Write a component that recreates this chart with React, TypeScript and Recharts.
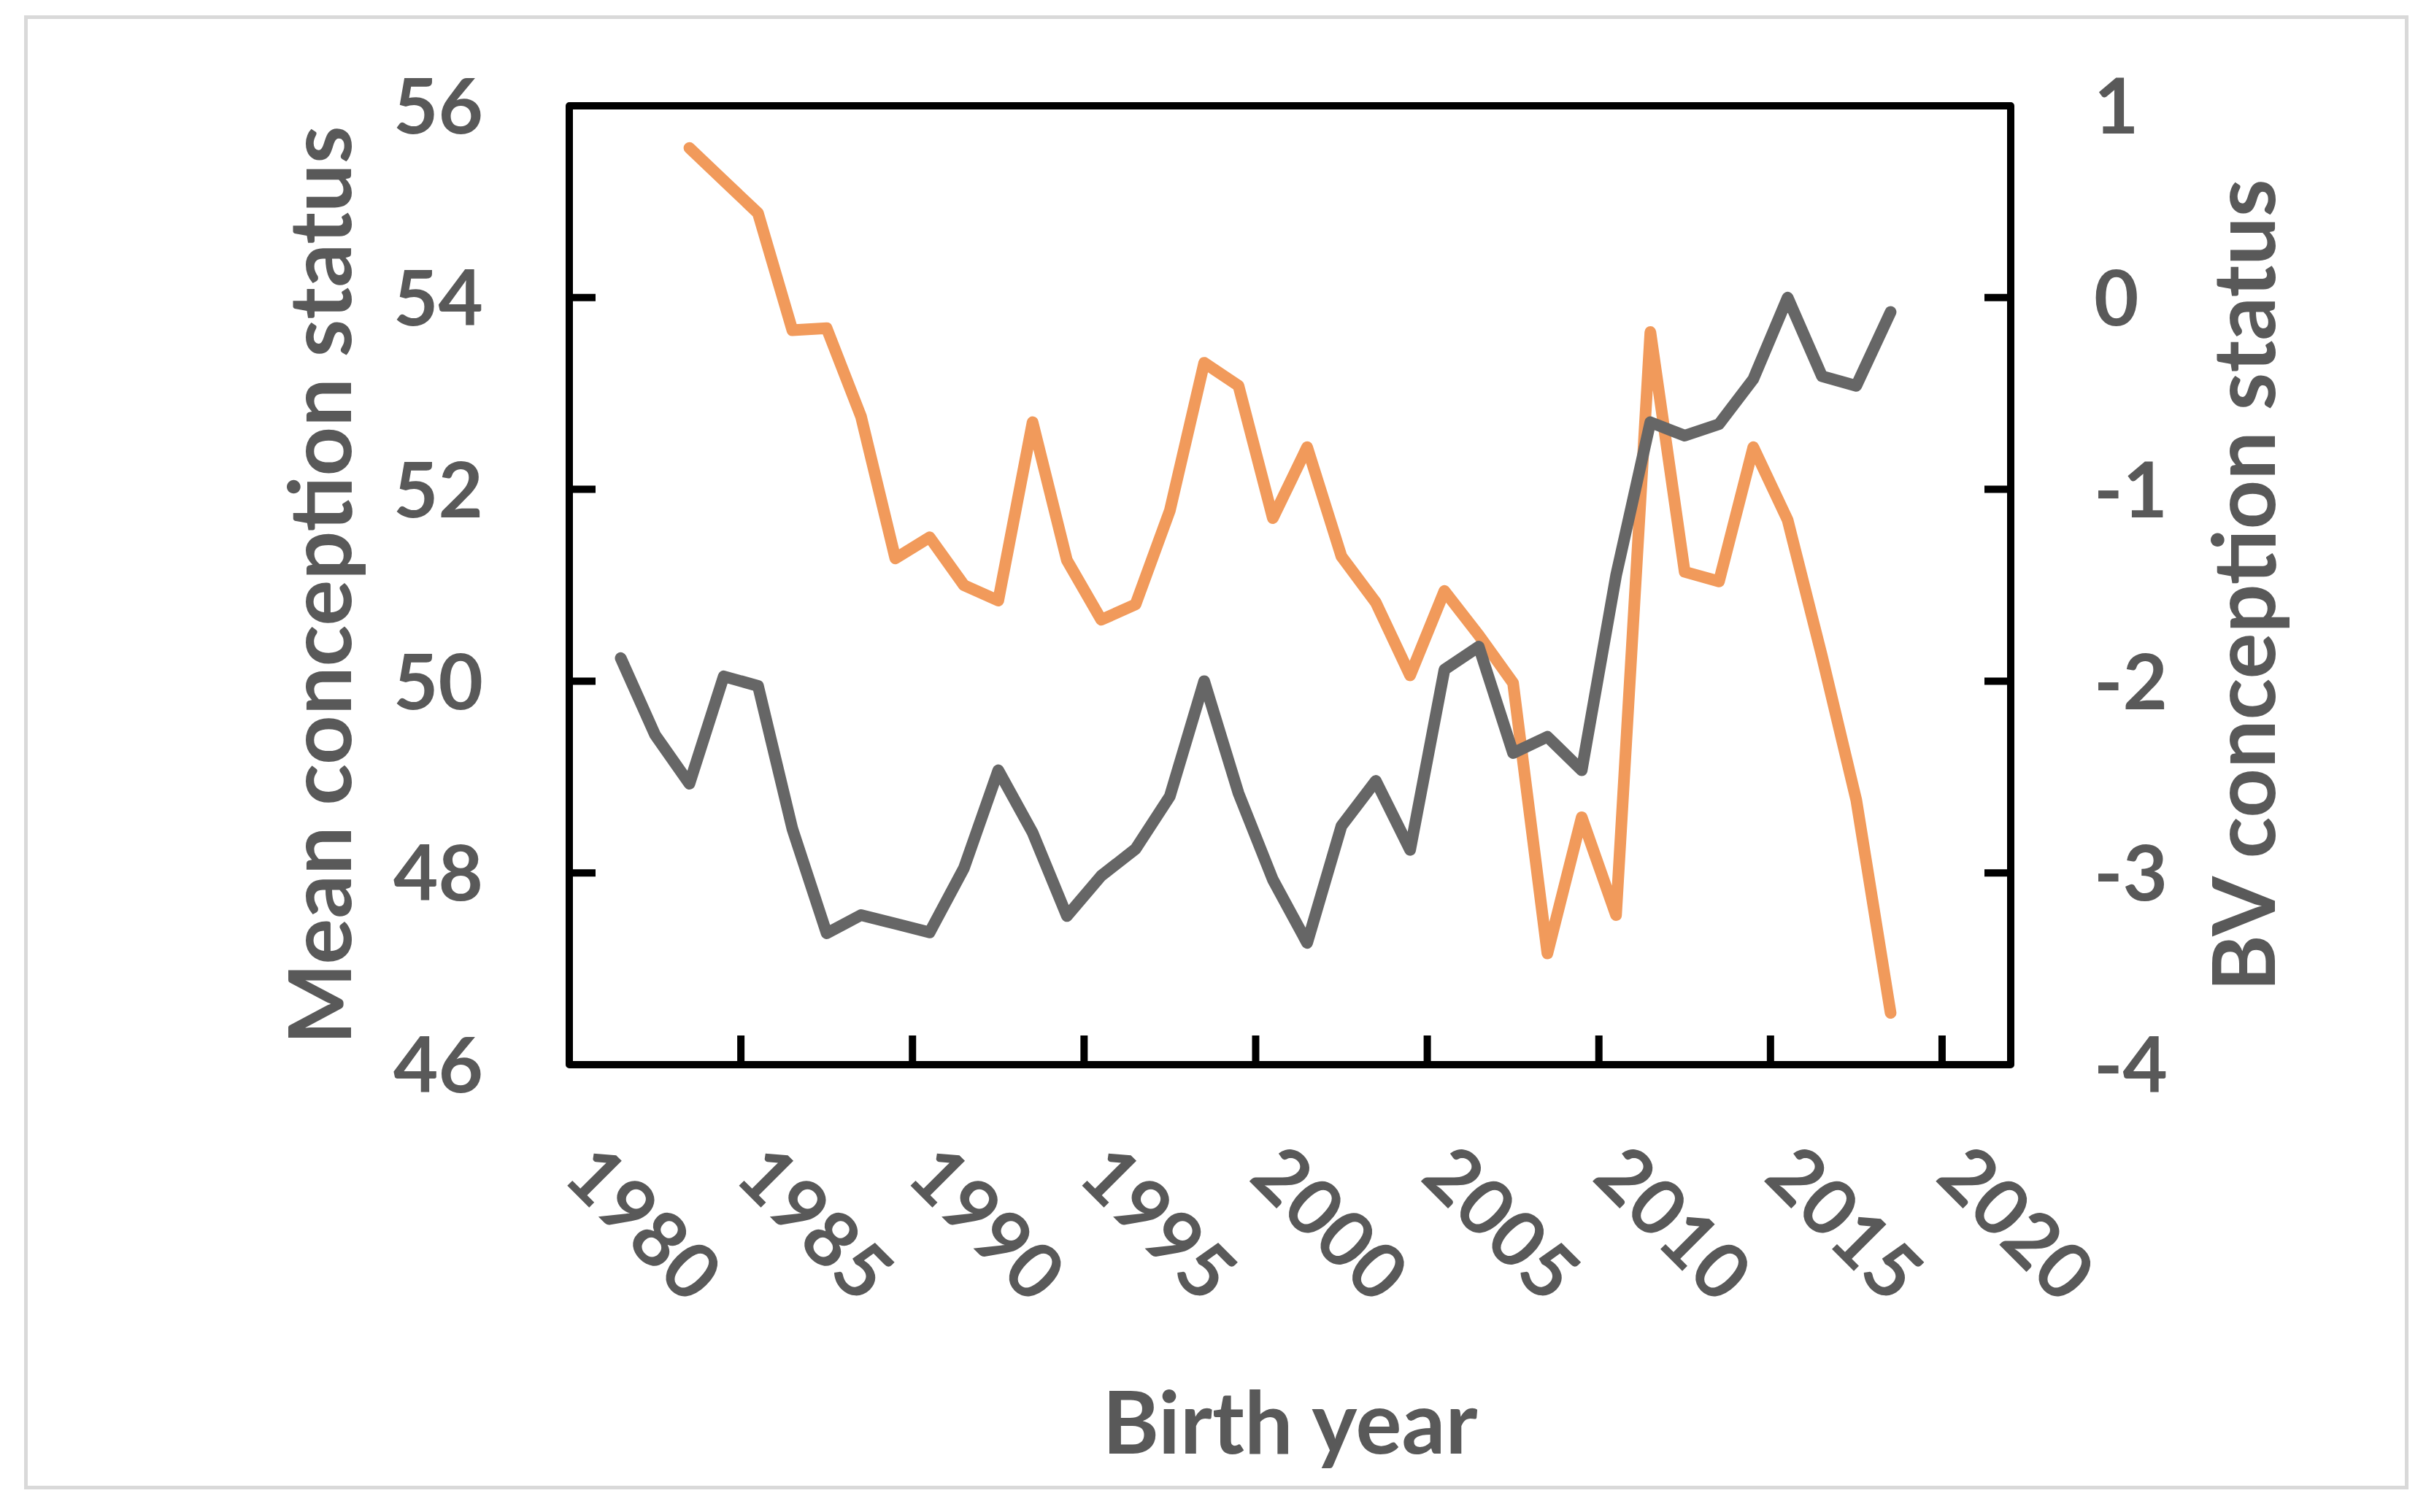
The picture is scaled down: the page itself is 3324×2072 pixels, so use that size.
import React from "react";
import {
    LineChart,
    Line,
    XAxis,
    YAxis,
    ReferenceArea,
    Label,
} from "recharts";

// birth years with a value (category axis runs 1980..2021)
const years = [
    1981, 1982, 1983, 1984, 1985, 1986, 1987, 1988, 1989, 1990,
    1991, 1992, 1993, 1994, 1995, 1996, 1997, 1998, 1999, 2000,
    2001, 2002, 2003, 2004, 2005, 2006, 2007, 2008, 2009, 2010,
    2011, 2012, 2013, 2014, 2015, 2016, 2017, 2018,
];

// grey line, left axis
const meanConception = [
    50.24, 49.44, 48.93, 50.05, 49.95, 48.46, 47.37, 47.56, 47.47, 47.38,
    48.05, 49.07, 48.42, 47.55, 47.97, 48.25, 48.8, 50.0, 48.83, 47.93,
    47.27, 48.49, 48.96, 48.24, 50.12, 50.36, 49.25, 49.42, 49.07, 51.1,
    52.7, 52.56, 52.68, 53.15, 54.0, 53.18, 53.08, 53.85,
];

// orange line, right axis (starts 1983)
const bvConception = [
    null, null, 0.78, 0.61, 0.44, -0.17, -0.16, -0.62, -1.36, -1.25,
    -1.5, -1.58, -0.65, -1.37, -1.68, -1.6, -1.11, -0.34, -0.46, -1.15,
    -0.78, -1.35, -1.59, -1.97, -1.53, -1.76, -2.01, -3.42, -2.71, -3.22,
    -0.18, -1.43, -1.48, -0.78, -1.16, -1.87, -2.62, -3.73,
];

const yearLabels = [1980, 1985, 1990, 1995, 2000, 2005, 2010, 2015, 2020];
const leftTicks = [46, 48, 50, 52, 54, 56];
const rightTicks = [-4, -3, -2, -1, 0, 1];

// category bands: ticks sit between categories
const xDomain = [1979.5, 2021.5];
const bandTicks = yearLabels.slice(1).map((y) => y - 0.5);

const data = years.map((year, i) => ({
    year,
    mean: meanConception[i],
    bv: bvConception[i],
}));

const TEXT = "#595959";
const FONT = "Lato, 'Open Sans', sans-serif";
const GREY = "#666666";
const ORANGE = "#F19A5B";

const tickLineStyle = { stroke: "#000", strokeWidth: 10 };

function YearTick(props: any) {
    const { x, y, payload } = props;
    const tx = x - 35;
    const ty = y + 156;
    return (
        <text
            x={tx}
            y={ty}
            transform={`rotate(45, ${tx}, ${ty})`}
            textAnchor="start"
            fill={TEXT}
            fontSize={106}
            fontWeight={700}
            fontFamily={FONT}
        >
            {payload.value}
        </text>
    );
}

function ValueTick(props: any) {
    const { x, y, payload, textAnchor } = props;
    return (
        <text
            x={x}
            y={y}
            dy="0.36em"
            textAnchor={textAnchor}
            fill={TEXT}
            fontSize={106}
            fontWeight={700}
            fontFamily={FONT}
        >
            {payload.value}
        </text>
    );
}

function VerticalTitle(props: any) {
    const { viewBox, text, offsetX } = props;
    const cx = viewBox.x + offsetX;
    const cy = viewBox.y + viewBox.height / 2;
    return (
        <text
            x={cx}
            y={cy}
            transform={`rotate(-90, ${cx}, ${cy})`}
            textAnchor="middle"
            fill={TEXT}
            fontSize={118}
            fontWeight={700}
            fontFamily={FONT}
        >
            {text}
        </text>
    );
}

function BottomTitle(props: any) {
    const { viewBox } = props;
    return (
        <text
            x={viewBox.x + viewBox.width / 2}
            y={viewBox.y + 532}
            textAnchor="middle"
            fill={TEXT}
            fontSize={118}
            fontWeight={700}
            fontFamily={FONT}
        >
            Birth year
        </text>
    );
}

export default function App() {
    return (
        <div style={{ position: "absolute", left: 0, top: 0, width: 3324, height: 2072, background: "#fff" }}>
            {/* outer frame */}
            <div
                style={{
                    position: "absolute",
                    left: 33,
                    top: 21,
                    width: 3267,
                    height: 2020,
                    boxSizing: "border-box",
                    border: "5px solid #D9D9D9",
                }}
            />
            <div style={{ position: "absolute", left: 0, top: 0 }}>
                <LineChart
                    width={3324}
                    height={2072}
                    data={data}
                    margin={{ top: 145, right: 0, bottom: 611, left: 0 }}
                >
                    <XAxis
                        xAxisId="bands"
                        type="number"
                        dataKey="year"
                        domain={xDomain}
                        ticks={bandTicks}
                        interval={0}
                        height={1}
                        axisLine={false}
                        tick={() => null}
                        tickSize={-40}
                        tickLine={tickLineStyle}
                    />
                    <XAxis
                        xAxisId="years"
                        type="number"
                        dataKey="year"
                        domain={xDomain}
                        ticks={yearLabels}
                        interval={0}
                        height={1}
                        axisLine={false}
                        tickLine={false}
                        tickSize={0}
                        tickMargin={0}
                        tick={<YearTick />}
                    >
                        <Label content={<BottomTitle />} />
                    </XAxis>
                    <YAxis
                        yAxisId="left"
                        orientation="left"
                        width={780}
                        domain={[46, 56]}
                        ticks={leftTicks}
                        interval={0}
                        axisLine={false}
                        tickSize={-36}
                        tickMargin={154}
                        tickLine={tickLineStyle}
                        tick={<ValueTick />}
                    >
                        <Label content={<VerticalTitle text="Mean conception status" offsetX={481} />} />
                    </YAxis>
                    <YAxis
                        yAxisId="right"
                        orientation="right"
                        width={569}
                        domain={[-4, 1]}
                        ticks={rightTicks}
                        interval={0}
                        axisLine={false}
                        tickSize={-36}
                        tickMargin={150}
                        tickLine={tickLineStyle}
                        tick={<ValueTick />}
                    >
                        <Label content={<VerticalTitle text="BV conception status" offsetX={362} />} />
                    </YAxis>
                    <ReferenceArea
                        xAxisId="years"
                        yAxisId="left"
                        x1={xDomain[0]}
                        x2={xDomain[1]}
                        y1={46}
                        y2={56}
                        fill="none"
                        stroke="#000"
                        strokeWidth={10}
                        strokeLinejoin="round"
                    />
                    <Line
                        xAxisId="years"
                        yAxisId="right"
                        dataKey="bv"
                        stroke={ORANGE}
                        strokeWidth={16}
                        strokeLinejoin="round"
                        strokeLinecap="round"
                        dot={false}
                        connectNulls={false}
                        isAnimationActive={false}
                    />
                    <Line
                        xAxisId="years"
                        yAxisId="left"
                        dataKey="mean"
                        stroke={GREY}
                        strokeWidth={16}
                        strokeLinejoin="round"
                        strokeLinecap="round"
                        dot={false}
                        isAnimationActive={false}
                    />
                </LineChart>
            </div>
        </div>
    );
}
